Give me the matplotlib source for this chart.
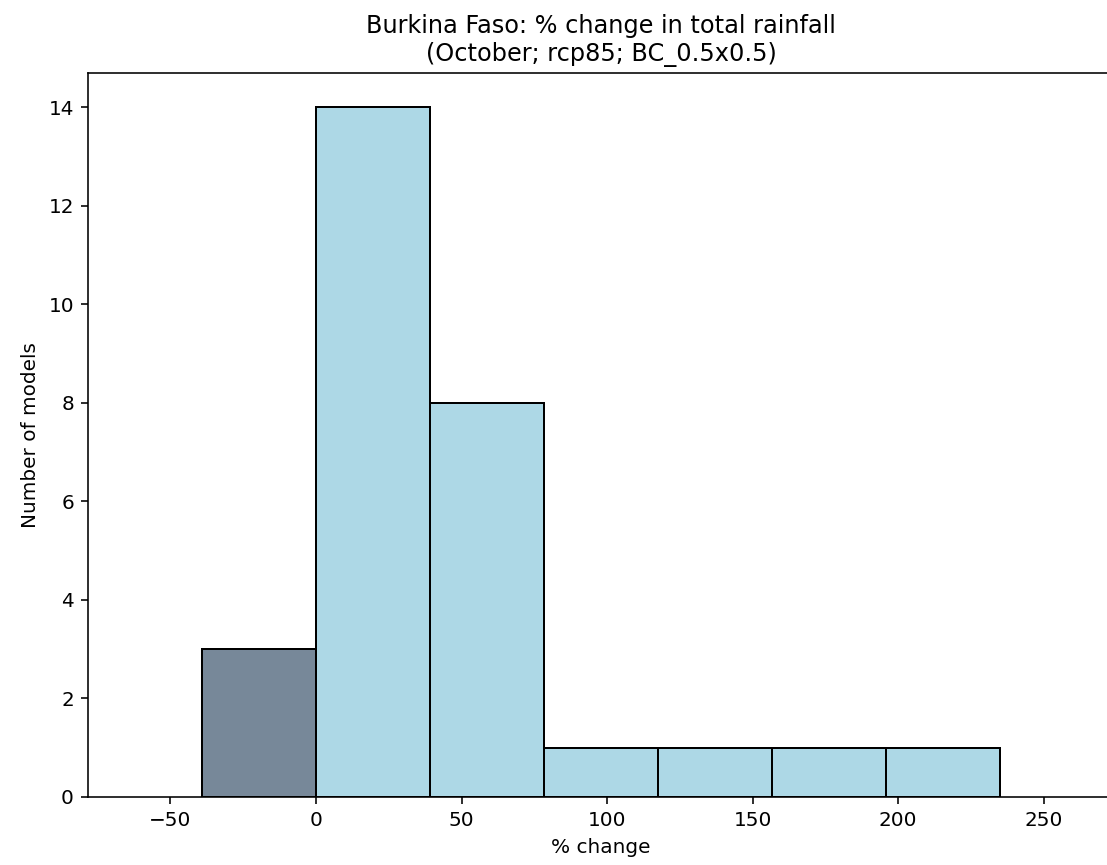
import matplotlib
matplotlib.use('Agg')
import matplotlib.pyplot as plt
import numpy as np

# histogram of model changes
bin_edges = np.linspace(-39.17, 235.0, 8)
counts = [3, 14, 8, 1, 1, 1, 1]
colours = ['lightslategray', 'lightblue', 'lightblue', 'lightblue',
           'lightblue', 'lightblue', 'lightblue']

fig, ax = plt.subplots(figsize=(1107 / 144, 865 / 144), dpi=144)
# axes run a little past the right edge of the figure, as in the original
fig.subplots_adjust(left=88 / 1107, right=1114 / 1107,
                    top=1 - 73 / 865, bottom=1 - 797 / 865)

widths = np.diff(bin_edges)
ax.bar(bin_edges[:-1], counts, width=widths, align='edge',
       color=colours, edgecolor='black', linewidth=1)

w = widths[0]
ax.set_xlim(bin_edges[0] - w, bin_edges[-1] + w)
ax.set_ylim(0, 14.7)
ax.set_xlabel('% change')
ax.set_ylabel('Number of models')
ax.set_title('Burkina Faso: % change in total rainfall\n(October; rcp85; BC_0.5x0.5)')

fig.savefig('out.png', dpi=144)
